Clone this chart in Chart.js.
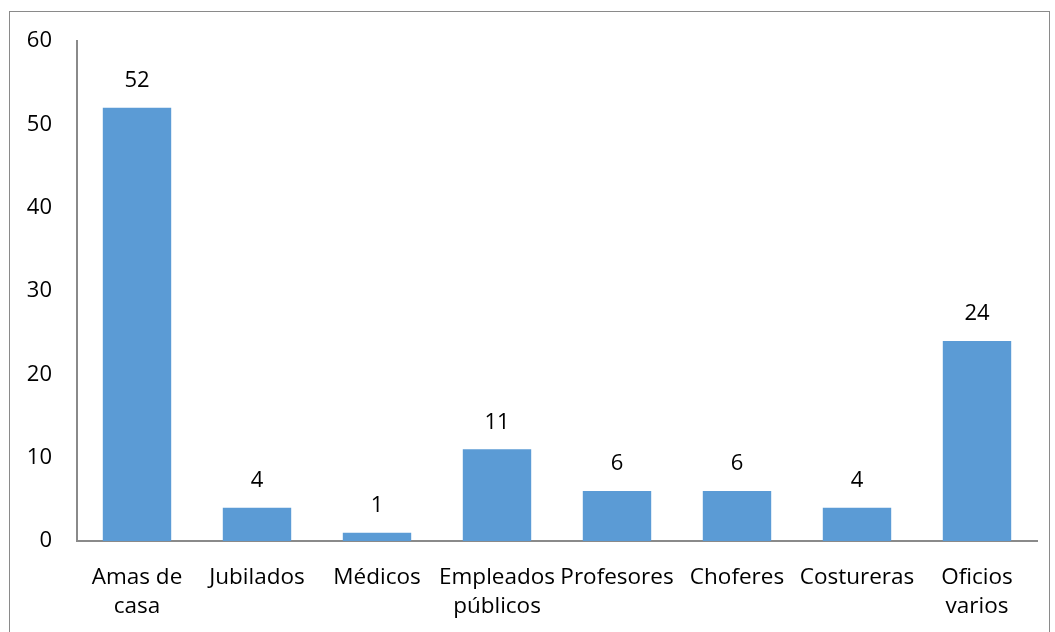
<!DOCTYPE html>
<html>
<head>
<meta charset="utf-8">
<script src="https://cdn.jsdelivr.net/npm/chart.js@4"></script>
<style>
  html, body { margin: 0; padding: 0; background: #fff; }
  #wrap { position: relative; width: 1055px; height: 632px; overflow: hidden; }
  #frame { position: absolute; left: 9px; top: 11px; width: 1041px; height: 625px; border: 1px solid #8a8a8a; box-sizing: border-box; }
  canvas { position: absolute; left: 0; top: 0; }
</style>
</head>
<body>
<div id="wrap">
  <div id="frame"></div>
  <canvas id="chart" width="1055" height="632"></canvas>
</div>
<script>
const categories = [
  ['Amas de', 'casa'],
  'Jubilados',
  'Médicos',
  ['Empleados', 'públicos'],
  'Profesores',
  'Choferes',
  'Costureras',
  ['Oficios', 'varios']
];
const values = [52, 4, 1, 11, 6, 6, 4, 24];
const yTicks = [0, 10, 20, 30, 40, 50, 60];

const FONT = '"Open Sans", "Noto Sans", sans-serif';

// draws the value above each bar
const valueLabels = {
  id: 'valueLabels',
  afterDatasetsDraw(chart) {
    const ctx = chart.ctx;
    const meta = chart.getDatasetMeta(0);
    ctx.save();
    ctx.font = '22px ' + FONT;
    ctx.fillStyle = '#000';
    ctx.textAlign = 'center';
    ctx.textBaseline = 'middle';
    meta.data.forEach((bar, i) => {
      ctx.fillText(String(values[i]), bar.x, bar.y - 27);
    });
    ctx.restore();
  }
};

new Chart(document.getElementById('chart').getContext('2d'), {
  type: 'bar',
  data: {
    labels: categories,
    datasets: [{
      data: values,
      backgroundColor: '#5b9bd5',
      borderWidth: 0,
      barPercentage: 0.57,
      categoryPercentage: 1
    }]
  },
  options: {
    responsive: false,
    animation: false,
    layout: { padding: { left: 0, top: 41, right: 18, bottom: 0 } },
    plugins: {
      legend: { display: false },
      tooltip: { enabled: false }
    },
    scales: {
      x: {
        grid: { display: false, drawTicks: false },
        border: { display: true, color: '#8a8a8a', width: 2 },
        ticks: {
          color: '#000',
          font: { family: FONT, size: 22.5, lineHeight: 1.3 },
          padding: 22,
          autoSkip: false,
          maxRotation: 0,
          minRotation: 0
        },
        afterFit(scale) { scale.height = 91; }
      },
      y: {
        min: 0,
        max: 60,
        afterBuildTicks(scale) { scale.ticks = yTicks.map(v => ({ value: v })); },
        grid: { display: false, drawTicks: false },
        border: { display: true, color: '#8a8a8a', width: 2 },
        ticks: {
          color: '#000',
          font: { family: FONT, size: 22 },
          padding: 25
        },
        afterFit(scale) { scale.width = 77; }
      }
    }
  },
  plugins: [valueLabels]
});
</script>
</body>
</html>
